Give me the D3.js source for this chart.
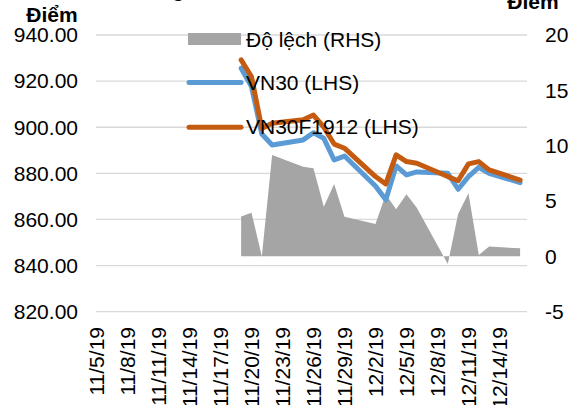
<!DOCTYPE html>
<html><head><meta charset="utf-8">
<script src="https://cdn.jsdelivr.net/npm/d3@7"></script>
<style>
html,body{margin:0;padding:0;background:#fff;}
svg{display:block;font-family:"Liberation Sans",Arial,sans-serif;}
</style></head>
<body>
<svg id="chart" width="575" height="405"></svg>
<script>
// ---- data ----
const dates = ["2019-11-19","2019-11-20","2019-11-21","2019-11-22","2019-11-25","2019-11-26","2019-11-27","2019-11-28","2019-11-29","2019-12-02","2019-12-03","2019-12-04","2019-12-05","2019-12-06","2019-12-09","2019-12-10","2019-12-11","2019-12-12","2019-12-13","2019-12-16"];
const vn30 = [925.6,917.6,897.1,892.3,894.5,897.6,895.2,885.8,887.5,874.5,868.5,883.2,879.3,880.6,880.0,873.1,878.6,882.6,880.0,876.0];
const vn30f = [929.2,921.9,899.5,901.7,903.2,905.3,900.0,892.7,890.9,878.6,875.4,888.0,885.1,884.4,878.6,876.8,884.1,885.1,881.5,877.1];
const deviation = [3.6,3.95,0.0,9.16,8.1,7.96,4.49,6.54,3.59,2.93,5.6,4.26,5.61,4.4,-0.69,3.83,5.7,0.13,0.88,0.73];
const leftTicks = [820,840,860,880,900,920,940];
const rightTicks = [-5,0,5,10,15,20];
const xTickDates = ["2019-11-05","2019-11-08","2019-11-11","2019-11-14","2019-11-17","2019-11-20","2019-11-23","2019-11-26","2019-11-29","2019-12-02","2019-12-05","2019-12-08","2019-12-11","2019-12-14"];
const seriesNames = ["Độ lệch (RHS)","VN30 (LHS)","VN30F1912 (LHS)"];
const axisTitle = "Điểm";
const chartTitle = "Độ lệch giữa VN30F1912 và chỉ số VN30";

// ---- setup ----
const parse = d3.timeParse("%Y-%m-%d");
const rows = dates.map((d,i)=>({date:parse(d), a:vn30[i], f:vn30f[i], dev:deviation[i]}));
const svg = d3.select("#chart");
const FS = 21;
const x = d3.scaleTime().domain([parse("2019-11-05"), new Date(2019,11,16,16)]).range([96.5,527]);
const yL = d3.scaleLinear().domain([820,940]).range([311.7,35]);
const yR = d3.scaleLinear().domain([-5,20]).range([311.7,35]);

// title (mostly cut off at top, as in the reference)
svg.append("text").attr("x",290).attr("y",-3).attr("text-anchor","middle")
  .attr("font-weight","bold").attr("font-size",FS).attr("fill","#000").text(chartTitle);

// gridlines
svg.append("g").selectAll("line").data(leftTicks).join("line")
  .attr("x1",96).attr("x2",527).attr("y1",d=>yL(d)).attr("y2",d=>yL(d))
  .attr("stroke","#d9d9d9").attr("stroke-width",1.3);

// left axis labels
svg.append("g").selectAll("text").data(leftTicks).join("text")
  .attr("x",78).attr("y",d=>yL(d)).attr("dy","0.35em").attr("text-anchor","end")
  .attr("font-size",FS).attr("fill","#000").text(d=>d3.format(".2f")(d));

// right axis labels
svg.append("g").selectAll("text").data(rightTicks).join("text")
  .attr("x",545).attr("y",d=>yR(d)).attr("dy","0.35em").attr("text-anchor","start")
  .attr("font-size",FS).attr("fill","#000").text(d=>d);

// axis titles
svg.append("text").attr("x",52).attr("y",21.5).attr("text-anchor","middle")
  .attr("font-weight","bold").attr("font-size",FS).text(axisTitle);
svg.append("text").attr("x",533).attr("y",8.5).attr("text-anchor","middle")
  .attr("font-weight","bold").attr("font-size",FS).text(axisTitle);

// x labels
const fmt = d=>(d.getMonth()+1)+"/"+d.getDate()+"/"+String(d.getFullYear()).slice(2);
svg.append("g").selectAll("text").data(xTickDates.map(parse)).join("text")
  .attr("transform",d=>`translate(${x(d)},327) rotate(-90)`)
  .attr("dy","0.35em").attr("text-anchor","end").attr("font-size",FS).attr("fill","#000")
  .text(fmt);

// area
svg.append("path").datum(rows)
  .attr("d", d3.area().x(d=>x(d.date)).y0(yR(0)).y1(d=>yR(d.dev)))
  .attr("fill","#a5a5a5");

// lines
const lineA = d3.line().x(d=>x(d.date)).y(d=>yL(d.a));
const lineF = d3.line().x(d=>x(d.date)).y(d=>yL(d.f));
svg.append("path").datum(rows).attr("d",lineA).attr("fill","none")
  .attr("stroke","#5b9bd5").attr("stroke-width",5).attr("stroke-linejoin","round").attr("stroke-linecap","round");
svg.append("path").datum(rows).attr("d",lineF).attr("fill","none")
  .attr("stroke","#c55a11").attr("stroke-width",5).attr("stroke-linejoin","round").attr("stroke-linecap","round");

// legend
const lg = svg.append("g");
lg.append("rect").attr("x",188).attr("y",33).attr("width",53).attr("height",12).attr("fill","#a5a5a5");
lg.append("line").attr("x1",189).attr("x2",241).attr("y1",82.5).attr("y2",82.5)
  .attr("stroke","#5b9bd5").attr("stroke-width",5).attr("stroke-linecap","round");
lg.append("line").attr("x1",189).attr("x2",241).attr("y1",127.3).attr("y2",127.3)
  .attr("stroke","#c55a11").attr("stroke-width",5).attr("stroke-linecap","round");
const ly = [40,82.5,127];
lg.selectAll("text").data(seriesNames).join("text")
  .attr("x",246).attr("y",(d,i)=>ly[i]).attr("dy","0.35em").attr("font-size",FS).attr("fill","#000")
  .text(d=>d);
</script>
</body></html>
